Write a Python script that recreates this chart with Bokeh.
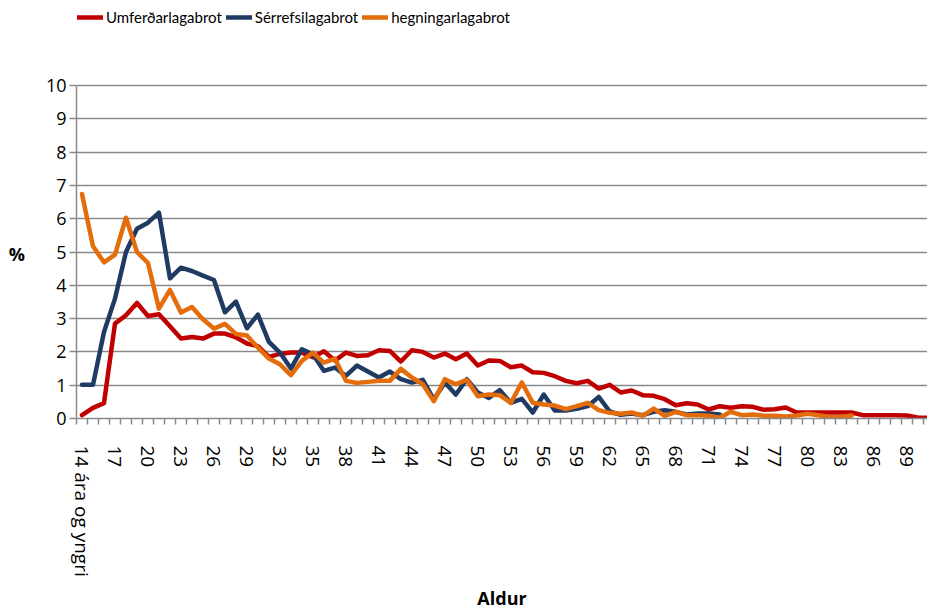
from bokeh.plotting import figure
from bokeh.models import Range1d, FixedTicker, Legend, LegendItem
from bokeh.embed import file_html
from bokeh.resources import INLINE

# Categories (age)
ages = ["14 ára og yngri"] + [str(a) for a in range(15, 92)]

# Series values (%)
umferdarlagabrot = [
    0.1, 0.32, 0.46, 2.85, 3.1, 3.47, 3.08, 3.13, 2.77, 2.4,
    2.45, 2.4, 2.55, 2.55, 2.44, 2.25, 2.17, 1.85, 1.94, 1.98,
    1.98, 1.84, 2.02, 1.74, 1.98, 1.88, 1.9, 2.05, 2.03, 1.71,
    2.05, 2.0, 1.83, 1.95, 1.78, 1.95, 1.59, 1.74, 1.73, 1.54,
    1.59, 1.39, 1.37, 1.27, 1.13, 1.06, 1.13, 0.9, 1.01, 0.78,
    0.84, 0.7, 0.68, 0.58, 0.4, 0.46, 0.42, 0.27, 0.37, 0.32,
    0.37, 0.35, 0.26, 0.28, 0.33, 0.18, 0.18, 0.18, 0.18, 0.18,
    0.18, 0.1, 0.1, 0.1, 0.1, 0.09, 0.03, 0.02,
]
serrefsilagabrot = [
    1.01, 1.01, 2.6, 3.6, 5.0, 5.7, 5.88, 6.18, 4.21, 4.53,
    4.43, 4.29, 4.16, 3.19, 3.51, 2.71, 3.12, 2.3, 1.98, 1.5,
    2.08, 1.93, 1.43, 1.53, 1.28, 1.59, 1.41, 1.23, 1.41, 1.18,
    1.08, 1.16, 0.57, 1.08, 0.72, 1.18, 0.78, 0.62, 0.85, 0.47,
    0.59, 0.18, 0.72, 0.24, 0.24, 0.29, 0.37, 0.65, 0.21, 0.11,
    0.15, 0.1, 0.2, 0.25, 0.2, 0.12, 0.15, 0.15, 0.12,
]
hegningarlagabrot = [
    6.74, 5.17, 4.69, 4.92, 6.03, 5.0, 4.67, 3.3, 3.86, 3.18,
    3.35, 2.98, 2.7, 2.84, 2.54, 2.49, 2.13, 1.8, 1.63, 1.3,
    1.73, 1.98, 1.68, 1.8, 1.13, 1.07, 1.1, 1.13, 1.13, 1.49,
    1.23, 1.03, 0.52, 1.18, 1.03, 1.16, 0.67, 0.72, 0.7, 0.47,
    1.08, 0.47, 0.42, 0.39, 0.28, 0.37, 0.47, 0.25, 0.17, 0.14,
    0.18, 0.08, 0.3, 0.08, 0.2, 0.1, 0.1, 0.08, 0.02, 0.2,
    0.1, 0.12, 0.08, 0.08, 0.06, 0.09, 0.14, 0.1, 0.04, 0.04,
    0.09,
]

series_names = ["Umferðarlagabrot", "Sérrefsilagabrot", "hegningarlagabrot"]
series_values = [umferdarlagabrot, serrefsilagabrot, hegningarlagabrot]
colors = ["#C00000", "#1F3B63", "#E46C0A"]
y_ticks = list(range(0, 11))
y_max = 10
y_title = "%"
x_title = "Aldur"

FONT = "Open Sans"
GRAY = "#8A8A8A"

# Frame spans from the top of the page (legend sits inside it, above the 10 line)
FRAME_H = 418
PLOT_H = 333  # pixel height of the 0..10 value band
p = figure(width=927, height=615, output_backend="svg", toolbar_location=None,
           x_range=Range1d(-0.5, 76.9),
           y_range=Range1d(0, y_max * FRAME_H / PLOT_H),
           min_border_left=76, min_border_right=0, min_border_top=0,
           min_border_bottom=197)
p.outline_line_color = None
p.background_fill_color = "white"

renderers = []
for name, vals, col in zip(series_names, series_values, colors):
    r = p.line(list(range(len(vals))), vals, line_color=col, line_width=4.5,
               line_join="round", line_cap="round")
    renderers.append(r)

# grid
p.xgrid.visible = False
p.ygrid.ticker = FixedTicker(ticks=y_ticks)
p.ygrid.grid_line_color = GRAY
p.ygrid.grid_line_width = 1.5

# y axis
yax = p.yaxis[0]
yax.bounds = (0, y_max)
yax.ticker = FixedTicker(ticks=y_ticks)
yax.axis_line_color = GRAY
yax.axis_line_width = 1.5
yax.major_tick_line_color = GRAY
yax.major_tick_line_width = 1.5
yax.major_tick_out = 7
yax.major_tick_in = 0
yax.minor_tick_line_color = None
yax.major_label_standoff = 3
yax.major_label_text_font = FONT
yax.major_label_text_font_size = "18px"
yax.major_label_text_color = "black"
# blank leading lines push the title down to the middle of the 0..10 band
yax.axis_label = "\n\n" + y_title
yax.axis_label_text_line_height = 1.85
yax.axis_label_orientation = "horizontal"
yax.axis_label_text_font = FONT
yax.axis_label_text_font_size = "18px"
yax.axis_label_text_font_style = "bold"
yax.axis_label_text_color = "black"
yax.axis_label_standoff = 18

# x axis
xax = p.xaxis[0]
major = list(range(0, len(ages), 3))
xax.ticker = FixedTicker(ticks=major,
                         minor_ticks=[i - 0.5 for i in range(len(ages) + 1)])
xax.major_label_overrides = {i: ages[i] for i in major}
xax.major_label_orientation = "vertical"
xax.axis_line_color = GRAY
xax.axis_line_width = 1.5
xax.major_tick_line_color = None
xax.major_tick_out = 0
xax.major_tick_in = 0
xax.minor_tick_line_color = GRAY
xax.minor_tick_line_width = 1.5
xax.minor_tick_out = 6
xax.minor_tick_in = 0
xax.major_label_standoff = 21
xax.major_label_text_font = FONT
xax.major_label_text_font_size = "19px"
xax.major_label_text_color = "black"
xax.axis_label = x_title
xax.axis_label_text_font = FONT
xax.axis_label_text_font_size = "18px"
xax.axis_label_text_font_style = "bold"
xax.axis_label_text_color = "black"
xax.axis_label_standoff = 6

legend = Legend(
    items=[LegendItem(label=n, renderers=[r]) for n, r in zip(series_names, renderers)],
    location=(1, 392), orientation="horizontal",
    label_text_font="Lato", label_text_font_size="15px", label_text_color="black",
    glyph_width=26, glyph_height=16, label_height=16, label_standoff=3,
    spacing=4, padding=0, margin=0,
    border_line_color=None, background_fill_alpha=0,
)
p.add_layout(legend, "center")

open("out.html", "w").write(file_html(p, INLINE))
